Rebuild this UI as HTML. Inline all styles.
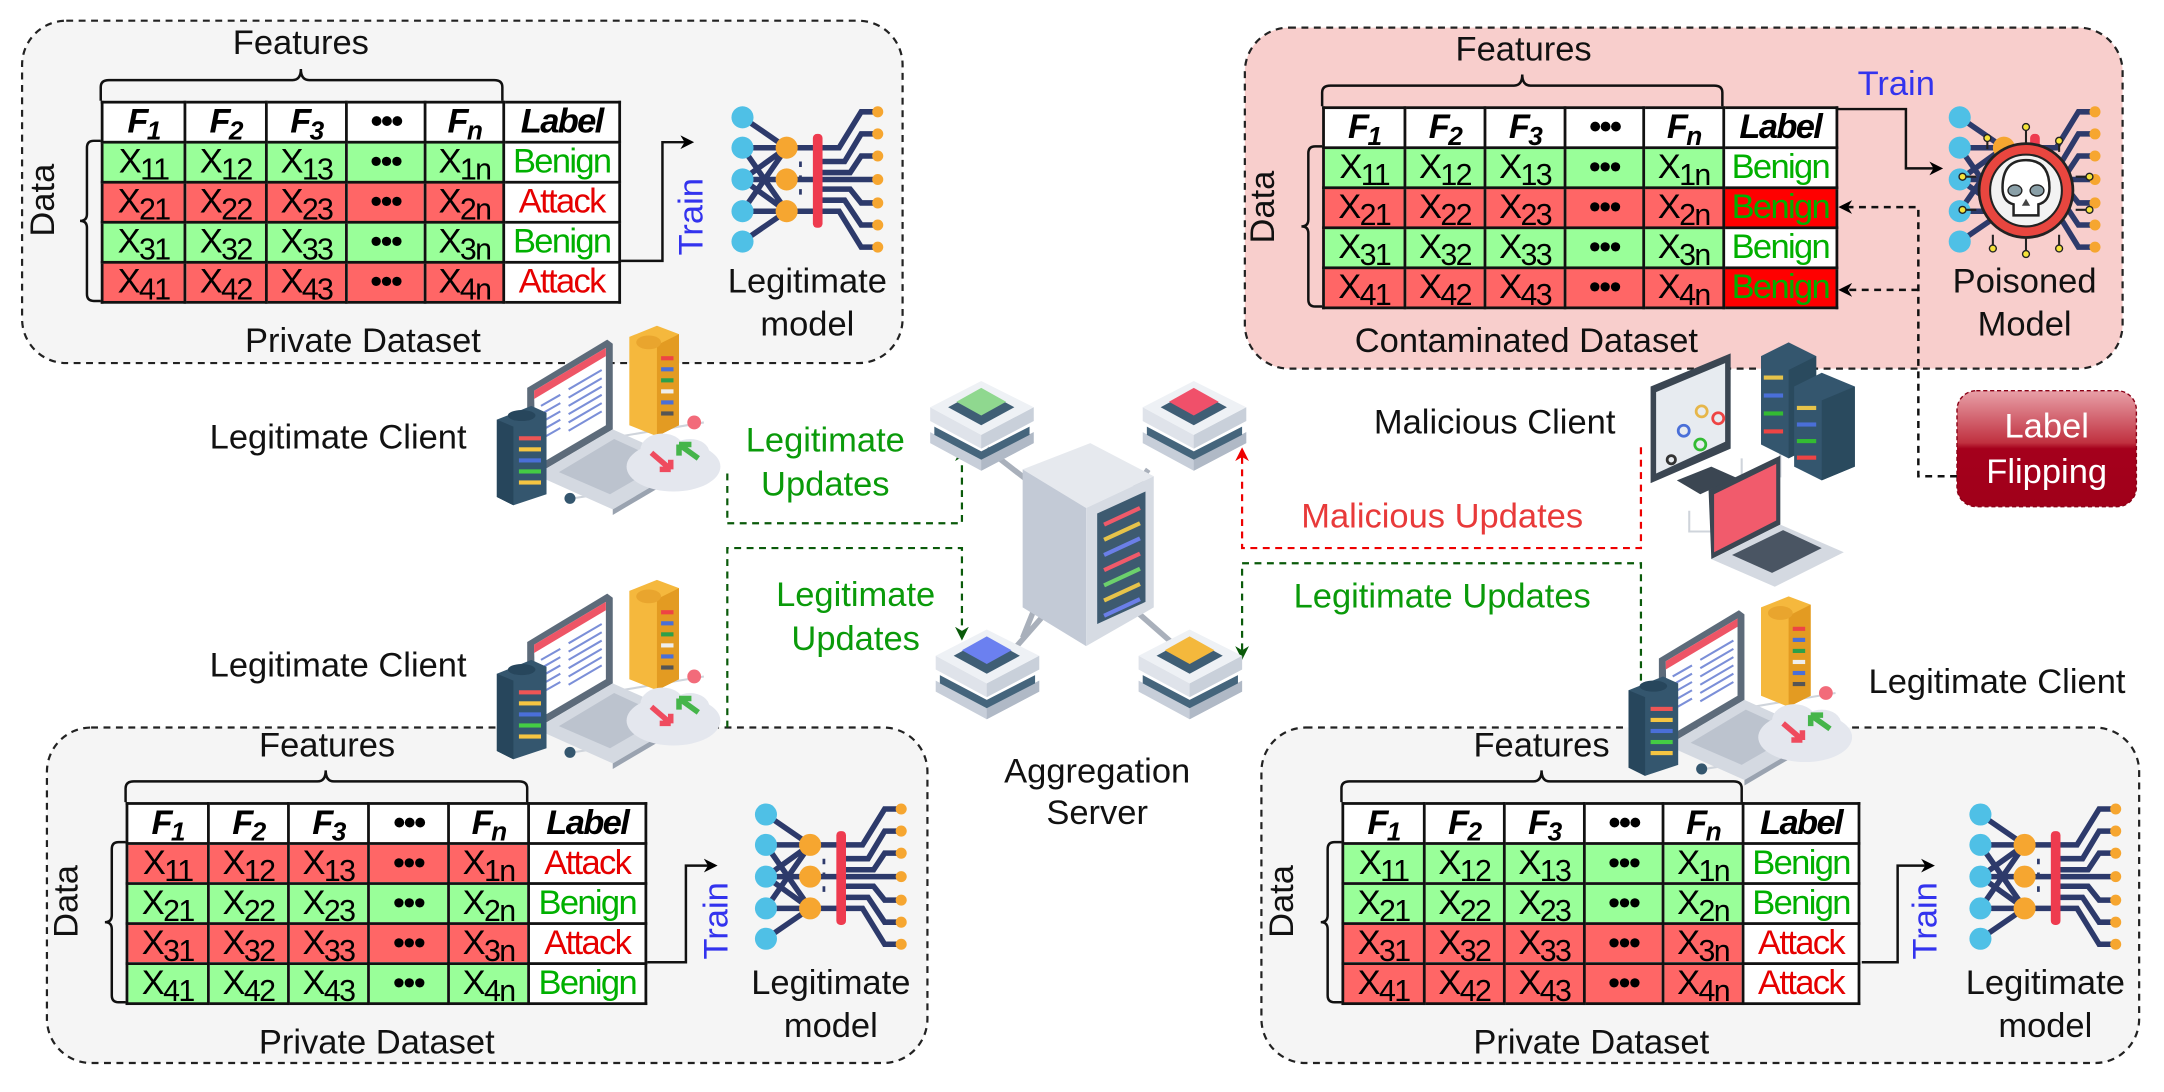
<!DOCTYPE html>
<html><head><meta charset="utf-8">
<style>
html,body{margin:0;padding:0;background:#fff;}
body{width:2164px;height:1092px;overflow:hidden;position:relative;}
#c{position:absolute;left:0;top:0;width:1568px;height:791px;transform-origin:0 0;transform:scale(1.38010,1.38053);font-family:"Liberation Sans",sans-serif;}
svg{position:absolute;left:0;top:0;}
table.t{position:absolute;border-collapse:collapse;table-layout:fixed;font-family:"Liberation Sans",sans-serif;}
table.t td,table.t th{border:2px solid #111;height:27px;padding:0;text-align:center;font-size:25px;line-height:25px;overflow:hidden;white-space:nowrap;letter-spacing:-1.2px;}
table.t th{background:#fff;font-weight:bold;font-style:italic;font-size:25px;}
table.t sub{font-size:22px;vertical-align:-5px;line-height:0;}
table.t th sub{font-size:19px;}
.g{background:#99ff99;}.r{background:#ff6666;}
.lb{background:#fff;color:#00b000;}.la{background:#fff;color:#e60000;}
.lr{background:#ff0000;color:#00b000;}
</style></head><body><div id="c">
<svg width="1568" height="791" viewBox="0 0 1568 791" font-family="Liberation Sans, sans-serif">
<defs>
<marker id="ab" markerWidth="10" markerHeight="10" refX="8" refY="5" orient="auto" markerUnits="userSpaceOnUse"><path d="M0,0 L10,5 L0,10 L3,5z" fill="#000"/></marker>
<marker id="ag" markerWidth="10" markerHeight="10" refX="8" refY="5" orient="auto" markerUnits="userSpaceOnUse"><path d="M0,0 L10,5 L0,10 L3,5z" fill="#0a5a0a"/></marker>
<marker id="ar" markerWidth="10" markerHeight="10" refX="8" refY="5" orient="auto" markerUnits="userSpaceOnUse"><path d="M0,0 L10,5 L0,10 L3,5z" fill="#e00"/></marker>
<linearGradient id="lf" x1="0" y1="0" x2="0" y2="1"><stop offset="0" stop-color="#e8a0a8"/><stop offset="0.45" stop-color="#c0303f"/><stop offset="0.5" stop-color="#a5001c"/><stop offset="1" stop-color="#a0001a"/></linearGradient>
<g id="nn">
<g stroke="#2d3a6b" stroke-width="4" fill="none">
<path d="M10,10 L42,32 M10,32 H66 M10,32 L42,78 M10,55 H66 M10,78 L42,32 M10,78 H66 M10,100 L42,78 M10,55 L42,32 M10,55 L42,78"/>
<path d="M66,32 H80 L96,6 H108 M66,42 H84 L96,22 H108 M66,50 H88 L96,38 H108 M66,55 H108 M66,62 H88 L96,72 H108 M66,70 H84 L96,88 H108 M66,78 H80 L96,104 H108"/>
</g>
<g fill="#4fc0e6"><circle cx="10" cy="10" r="8"/><circle cx="10" cy="32" r="8"/><circle cx="10" cy="55" r="8"/><circle cx="10" cy="78" r="8"/><circle cx="10" cy="100" r="8"/></g>
<g fill="#f6a630"><circle cx="42" cy="32" r="8"/><circle cx="42" cy="55" r="8"/><circle cx="42" cy="78" r="8"/>
<circle cx="108" cy="6" r="4"/><circle cx="108" cy="22" r="4"/><circle cx="108" cy="38" r="4"/><circle cx="108" cy="55" r="4"/><circle cx="108" cy="72" r="4"/><circle cx="108" cy="88" r="4"/><circle cx="108" cy="104" r="4"/></g>
<rect x="61" y="22" width="7" height="68" rx="3" fill="#ee3b4f"/>
<path d="M52,42 v4 M52,52 v4 M52,62 v4" stroke="#2d3a6b" stroke-width="2"/>
</g>
<g id="client">
<path d="M78,82 L150,70 M55,125 L100,118" stroke="#cfd4db" stroke-width="1.5" fill="none"/>
<path d="M96,8 L116,0 L132,6 V72 L116,80 L96,72z" fill="#f5b83d"/><path d="M116,80 L132,72 V6 L116,14z" fill="#e39b22"/>
<ellipse cx="110" cy="12" rx="9" ry="5" fill="#e9a52e"/>
<g><rect x="119" y="22" width="9" height="3" fill="#e44"/><rect x="119" y="30" width="9" height="3" fill="#4a6fd8"/><rect x="119" y="38" width="9" height="3" fill="#2ca04a"/><rect x="119" y="46" width="9" height="3" fill="#eee"/><rect x="119" y="54" width="9" height="3" fill="#4a6fd8"/><rect x="119" y="62" width="9" height="3" fill="#555"/></g>
<path d="M22,45 L80,10 L84,13 L84,75 L28,108 L22,104z" fill="#5d6b7a"/>
<path d="M27,47 L79,16 L79,72 L28,102z" fill="#fff"/>
<path d="M27,47 L79,16 L79,22 L27,53z" fill="#ee5566"/>
<g stroke="#7b8fd8" stroke-width="1.5"><path d="M32,58 L46,50 M32,64 L46,56 M32,70 L46,62 M32,76 L46,68 M32,82 L46,74 M52,46 L76,32 M52,52 L76,38 M52,58 L76,44 M52,64 L76,50 M52,70 L76,56 M52,76 L76,62"/></g>
<path d="M28,108 L84,75 L140,100 L84,133z" fill="#d4d9e1"/>
<path d="M84,133 L140,100 L140,104 L84,137z" fill="#9aa3b0"/>
<path d="M45,106 L85,82 L122,99 L82,122z" fill="#bcc3ce"/>
<path d="M0,68 L25,58 L36,63 L36,122 L12,130 L0,124z" fill="#34566e"/>
<path d="M0,68 L12,73 L12,130 L0,124z" fill="#27465c"/>
<ellipse cx="18" cy="65" rx="10" ry="4" fill="#27465c"/>
<g><rect x="16" y="80" width="16" height="3" fill="#e55"/><rect x="16" y="88" width="16" height="3" fill="#f5c542"/><rect x="16" y="96" width="16" height="3" fill="#4a6fd8"/><rect x="16" y="104" width="16" height="3" fill="#4c4"/><rect x="16" y="112" width="16" height="3" fill="#f5c542"/></g>
<circle cx="143" cy="70" r="5" fill="#f26b7a"/><circle cx="53" cy="125" r="4" fill="#34566e"/>
<ellipse cx="128" cy="102" rx="34" ry="18" fill="#e4e7ee"/><ellipse cx="120" cy="90" rx="16" ry="12" fill="#e4e7ee"/><ellipse cx="140" cy="92" rx="14" ry="10" fill="#e4e7ee"/>
<path d="M112,92 L126,104 M126,104 l-8,0 M126,104 l0,-7" stroke="#ef4b5e" stroke-width="4" fill="none"/>
<path d="M146,96 L132,86 M132,86 l9,0 M132,86 l0,8" stroke="#45b54a" stroke-width="4" fill="none"/>
</g>
<g id="node">
<path d="M0,38 L37,58 L75,38 L75,46 L37,66 L0,46z" fill="#c7ced9"/>
<path d="M37,58 L75,38 L75,46 L37,66z" fill="#b0b9c6"/>
<path d="M3,34 L37,52 L72,34 L72,40 L37,58 L3,40z" fill="#45657c"/>
<path d="M0,20 L37,40 L75,20 L75,30 L37,50 L0,30z" fill="#dfe3ea"/>
<path d="M37,40 L75,20 L75,30 L37,50z" fill="#c9d0da"/>
<path d="M0,20 L37,1 L75,20 L37,40z" fill="#eef1f5"/>
<path d="M13,20 L37,7 L61,20 L37,33z" fill="#3f5e75"/>
</g>
</defs>

<rect x="16" y="15" width="638" height="248" rx="32" fill="#f5f5f5" stroke="#222" stroke-width="1.6" stroke-dasharray="5,4"/>
<rect x="902" y="20" width="636" height="247" rx="32" fill="#f8cecc" stroke="#222" stroke-width="1.6" stroke-dasharray="5,4"/>
<rect x="34" y="527" width="638" height="243" rx="32" fill="#f5f5f5" stroke="#222" stroke-width="1.6" stroke-dasharray="5,4"/>
<rect x="914" y="527" width="636" height="243" rx="32" fill="#f5f5f5" stroke="#222" stroke-width="1.6" stroke-dasharray="5,4"/>

<g fill="none" stroke="#111" stroke-width="1.8">
<path d="M73,73 V63 Q73,58 79,58 H212 Q218,58 218,50 Q218,58 224,58 H358 Q364,58 364,63 V73"/>
<path d="M73,102 H68 Q63,102 63,107 V155 Q63,160 58,160 Q63,160 63,165 V213 Q63,218 68,218 H73"/>
<path d="M958,77 V67 Q958,62 964,62 H1097 Q1103,62 1103,54 Q1103,62 1109,62 H1242 Q1248,62 1248,67 V77"/>
<path d="M958,106 H953 Q948,106 948,111 V159 Q948,164 943,164 Q948,164 948,169 V217 Q948,222 953,222 H958"/>
<path d="M91,581 V571 Q91,566 97,566 H230 Q236,566 236,558 Q236,566 242,566 H376 Q382,566 382,571 V581"/>
<path d="M91,610 H86 Q81,610 81,615 V663 Q81,668 76,668 Q81,668 81,673 V721 Q81,726 86,726 H91"/>
<path d="M972,581 V571 Q972,566 978,566 H1111 Q1117,566 1117,558 Q1117,566 1123,566 H1256 Q1262,566 1262,571 V581"/>
<path d="M972,610 H967 Q962,610 962,615 V663 Q962,668 957,668 Q962,668 962,673 V721 Q962,726 967,726 H972"/>
</g>

<g font-size="25" fill="#111" text-anchor="middle">
<text x="218" y="39">Features</text>
<text x="1104" y="44">Features</text>
<text x="237" y="548">Features</text>
<text x="1117" y="548">Features</text>
<text transform="translate(39,145) rotate(-90)">Data</text>
<text transform="translate(923,150) rotate(-90)">Data</text>
<text transform="translate(56,653) rotate(-90)">Data</text>
<text transform="translate(937,653) rotate(-90)">Data</text>
<text x="263" y="255">Private Dataset</text>
<text x="1106" y="255">Contaminated Dataset</text>
<text x="273" y="763">Private Dataset</text>
<text x="1153" y="763">Private Dataset</text>
<text x="585" y="212">Legitimate</text><text x="585" y="243">model</text>
<text x="1467" y="212">Poisoned</text><text x="1467" y="243">Model</text>
<text x="602" y="720">Legitimate</text><text x="602" y="751">model</text>
<text x="1482" y="720">Legitimate</text><text x="1482" y="751">model</text>
<text x="245" y="325">Legitimate Client</text>
<text x="245" y="490">Legitimate Client</text>
<text x="1083" y="314">Malicious Client</text>
<text x="1447" y="502">Legitimate Client</text>
<text x="795" y="567">Aggregation</text><text x="795" y="597">Server</text>
</g>
<g font-size="25" text-anchor="middle">
<text x="598" y="327" fill="#0a9a0a">Legitimate</text><text x="598" y="359" fill="#0a9a0a">Updates</text>
<text x="620" y="439" fill="#0a9a0a">Legitimate</text><text x="620" y="471" fill="#0a9a0a">Updates</text>
<text x="1045" y="382" fill="#e83a3a">Malicious Updates</text>
<text x="1045" y="440" fill="#0a9a0a">Legitimate Updates</text>
<text x="1374" y="69" fill="#3333ee">Train</text>
<text transform="translate(509,157) rotate(-90)" fill="#3333ee">Train</text>
<text transform="translate(527,667) rotate(-90)" fill="#3333ee">Train</text>
<text transform="translate(1403,667) rotate(-90)" fill="#3333ee">Train</text>
</g>

<g fill="none" stroke="#111" stroke-width="1.8">
<path d="M450,189 H480 V103 H501" marker-end="url(#ab)"/>
<path d="M469,697 H497 V627 H518" marker-end="url(#ab)"/>
<path d="M1349,697 H1375 V627 H1400" marker-end="url(#ab)"/>
<path d="M1330,79 H1381 V122 H1406" marker-end="url(#ab)"/>
<path d="M1418,345 H1390 V150 H1334" stroke-dasharray="5,4" marker-end="url(#ab)"/>
<path d="M1390,210 H1334" stroke-dasharray="5,4" marker-end="url(#ab)"/>
</g>

<g fill="none" stroke-width="1.6" stroke-dasharray="5,4">
<path d="M527,343 V379 H697 V326" stroke="#0a5a0a" marker-end="url(#ag)"/>
<path d="M527,527 V397 H697 V462" stroke="#0a5a0a" marker-end="url(#ag)"/>
<path d="M1189,324 V397 H900 V326" stroke="#e00" marker-end="url(#ar)"/>
<path d="M1189,493 V408 H900 V476" stroke="#0a5a0a" marker-end="url(#ag)"/>
</g>

<rect x="1418" y="283" width="130" height="84" rx="14" fill="url(#lf)" stroke="#8a0015" stroke-dasharray="3,2"/>
<text x="1483" y="317" font-size="25" fill="#fff" text-anchor="middle">Label</text>
<text x="1483" y="350" font-size="25" fill="#fff" text-anchor="middle">Flipping</text>

<use href="#nn" x="528" y="75"/>
<use href="#nn" x="545" y="580"/>
<use href="#nn" x="1425" y="580"/>
<use href="#nn" x="1410" y="75"/>
<g transform="translate(1468,138)">
<g stroke="#222" stroke-width="1.5" fill="none"><path d="M-28,-30 V-36 M0,-34 V-44 M24,-28 V-34 M-36,-10 H-44 M36,-10 H44 M-36,14 H-44 M36,14 H44 M-24,32 V40 M0,34 V44 M24,32 V40"/></g>
<g fill="#f5e33a" stroke="#222" stroke-width="1"><circle cx="-28" cy="-38" r="2.5"/><circle cx="0" cy="-46" r="2.5"/><circle cx="24" cy="-36" r="2.5"/><circle cx="-46" cy="-10" r="2.5"/><circle cx="46" cy="-10" r="2.5"/><circle cx="-46" cy="14" r="2.5"/><circle cx="46" cy="14" r="2.5"/><circle cx="-24" cy="42" r="2.5"/><circle cx="0" cy="46" r="2.5"/><circle cx="24" cy="42" r="2.5"/></g>
<circle r="34" fill="#e8463f" stroke="#222" stroke-width="2"/>
<circle r="26" fill="#f3f3f3" stroke="#222" stroke-width="1.5"/>
<path d="M-17,-2 Q-17,-22 0,-22 Q17,-22 17,-2 Q17,8 9,10 V18 H-9 V10 Q-17,8 -17,-2z" fill="#fff" stroke="#222" stroke-width="1.8"/>
<ellipse cx="-8" cy="0" rx="5" ry="4" fill="#8aa0a8" stroke="#222"/><ellipse cx="8" cy="0" rx="5" ry="4" fill="#8aa0a8" stroke="#222"/>
<path d="M0,6 l-3,5 h6z" fill="#444"/>
</g>

<use href="#client" x="360" y="236"/>
<use href="#client" x="360" y="420"/>
<use href="#client" x="1180" y="432"/>

<g>
<path d="M1224,370 V385 H1268 M1262,332 V345 H1290 V300 M1248,400 L1270,410 M1300,312 L1330,300" stroke="#cfd4db" stroke-width="1.5" fill="none"/>
<path d="M1196,280 L1254,256 V325 L1196,350z" fill="#3b4652"/>
<path d="M1200,284 L1250,263 V320 L1200,343z" fill="#e7ebf0"/>
<circle cx="1220" cy="312" r="4" fill="none" stroke="#4a6fd8" stroke-width="2"/><circle cx="1233" cy="298" r="4" fill="none" stroke="#e6b64a" stroke-width="2"/><circle cx="1245" cy="303" r="4" fill="none" stroke="#e44" stroke-width="2"/><circle cx="1232" cy="322" r="4" fill="none" stroke="#3b3" stroke-width="2"/><circle cx="1211" cy="333" r="3" fill="none" stroke="#333" stroke-width="2"/>
<path d="M1215,348 L1240,338 L1258,346 L1232,358z" fill="#3b4652"/>
<path d="M1276,258 L1296,248 L1316,258 V322 L1296,332 L1276,322z" fill="#34566e"/>
<path d="M1296,268 L1316,258 V322 L1296,332z" fill="#2a4a5e"/>
<g><rect x="1278" y="272" width="14" height="3" fill="#e6c34a"/><rect x="1278" y="285" width="14" height="3" fill="#4a6fd8"/><rect x="1278" y="298" width="14" height="3" fill="#3b3"/><rect x="1278" y="311" width="14" height="3" fill="#e44"/></g>
<path d="M1300,280 L1320,270 L1344,280 V338 L1320,348 L1300,338z" fill="#34566e"/>
<path d="M1320,290 L1344,280 V338 L1320,348z" fill="#2a4a5e"/>
<g><rect x="1302" y="294" width="14" height="3" fill="#e6c34a"/><rect x="1302" y="306" width="14" height="3" fill="#4a6fd8"/><rect x="1302" y="318" width="14" height="3" fill="#3b3"/><rect x="1302" y="330" width="14" height="3" fill="#e44"/></g>
<path d="M1238,355 L1290,330 V380 L1240,405z" fill="#3b4652"/>
<path d="M1242,358 L1287,336 V377 L1242,400z" fill="#f15b6c"/>
<path d="M1240,405 L1290,380 L1336,400 L1286,425z" fill="#d4d9e1"/>
<path d="M1255,402 L1292,384 L1320,397 L1284,415z" fill="#4a5563"/>
</g>

<g>
<path d="M775,378 L741,462 M805,378 L832,340 M770,430 L735,470 M820,440 L852,468 M760,360 L715,325" stroke="#a9b0bb" stroke-width="4"/>
<path d="M741,340 L790,321 L836,345 L787,368z" fill="#e6e9ee"/>
<path d="M741,340 L787,368 V468 L741,440z" fill="#c3cad6"/>
<path d="M787,368 L836,345 V440 L787,468z" fill="#d6dbe3"/>
<path d="M795,372 L830,356 V436 L795,452z" fill="#3d5a70"/>
<g stroke-width="3"><path d="M800,380 L826,368" stroke="#f05a6a"/><path d="M800,391 L826,379" stroke="#e6c34a"/><path d="M800,402 L826,390" stroke="#6b7fe8"/><path d="M800,413 L826,401" stroke="#f05a6a"/><path d="M800,424 L826,412" stroke="#6cd06c"/><path d="M800,435 L826,423" stroke="#e6c34a"/><path d="M800,446 L826,434" stroke="#6b7fe8"/></g>
</g>
<use href="#node" x="674" y="275"/>
<path d="M693,291 L711,281 L729,291 L711,301z" fill="#8fd88f"/>
<use href="#node" x="828" y="275"/>
<path d="M847,291 L865,281 L883,291 L865,301z" fill="#f0506a"/>
<use href="#node" x="678" y="455"/>
<path d="M697,471 L715,461 L733,471 L715,481z" fill="#6b80f0"/>
<use href="#node" x="825" y="455"/>
<path d="M844,471 L862,461 L880,471 L862,481z" fill="#f4b83c"/>
</svg>

<table class="t" style="left:73px;top:73px;width:375px">
<colgroup><col style="width:60px"><col style="width:59px"><col style="width:58px"><col style="width:57px"><col style="width:57px"><col style="width:84px"></colgroup>
<tr><th>F<sub>1</sub></th><th>F<sub>2</sub></th><th>F<sub>3</sub></th><th>•••</th><th>F<sub>n</sub></th><th>Label</th></tr>
<tr><td class="g">X<sub>11</sub></td><td class="g">X<sub>12</sub></td><td class="g">X<sub>13</sub></td><td class="g">•••</td><td class="g">X<sub>1n</sub></td><td class="lb">Benign</td></tr>
<tr><td class="r">X<sub>21</sub></td><td class="r">X<sub>22</sub></td><td class="r">X<sub>23</sub></td><td class="r">•••</td><td class="r">X<sub>2n</sub></td><td class="la">Attack</td></tr>
<tr><td class="g">X<sub>31</sub></td><td class="g">X<sub>32</sub></td><td class="g">X<sub>33</sub></td><td class="g">•••</td><td class="g">X<sub>3n</sub></td><td class="lb">Benign</td></tr>
<tr><td class="r">X<sub>41</sub></td><td class="r">X<sub>42</sub></td><td class="r">X<sub>43</sub></td><td class="r">•••</td><td class="r">X<sub>4n</sub></td><td class="la">Attack</td></tr>
</table>

<table class="t" style="left:958px;top:77px;width:372px">
<colgroup><col style="width:59px"><col style="width:58px"><col style="width:58px"><col style="width:57px"><col style="width:58px"><col style="width:82px"></colgroup>
<tr><th>F<sub>1</sub></th><th>F<sub>2</sub></th><th>F<sub>3</sub></th><th>•••</th><th>F<sub>n</sub></th><th>Label</th></tr>
<tr><td class="g">X<sub>11</sub></td><td class="g">X<sub>12</sub></td><td class="g">X<sub>13</sub></td><td class="g">•••</td><td class="g">X<sub>1n</sub></td><td class="lb">Benign</td></tr>
<tr><td class="r">X<sub>21</sub></td><td class="r">X<sub>22</sub></td><td class="r">X<sub>23</sub></td><td class="r">•••</td><td class="r">X<sub>2n</sub></td><td class="lr">Benign</td></tr>
<tr><td class="g">X<sub>31</sub></td><td class="g">X<sub>32</sub></td><td class="g">X<sub>33</sub></td><td class="g">•••</td><td class="g">X<sub>3n</sub></td><td class="lb">Benign</td></tr>
<tr><td class="r">X<sub>41</sub></td><td class="r">X<sub>42</sub></td><td class="r">X<sub>43</sub></td><td class="r">•••</td><td class="r">X<sub>4n</sub></td><td class="lr">Benign</td></tr>
</table>

<table class="t" style="left:91px;top:581px;width:376px">
<colgroup><col style="width:59px"><col style="width:58px"><col style="width:58px"><col style="width:58px"><col style="width:58px"><col style="width:85px"></colgroup>
<tr><th>F<sub>1</sub></th><th>F<sub>2</sub></th><th>F<sub>3</sub></th><th>•••</th><th>F<sub>n</sub></th><th>Label</th></tr>
<tr><td class="r">X<sub>11</sub></td><td class="r">X<sub>12</sub></td><td class="r">X<sub>13</sub></td><td class="r">•••</td><td class="r">X<sub>1n</sub></td><td class="la">Attack</td></tr>
<tr><td class="g">X<sub>21</sub></td><td class="g">X<sub>22</sub></td><td class="g">X<sub>23</sub></td><td class="g">•••</td><td class="g">X<sub>2n</sub></td><td class="lb">Benign</td></tr>
<tr><td class="r">X<sub>31</sub></td><td class="r">X<sub>32</sub></td><td class="r">X<sub>33</sub></td><td class="r">•••</td><td class="r">X<sub>3n</sub></td><td class="la">Attack</td></tr>
<tr><td class="g">X<sub>41</sub></td><td class="g">X<sub>42</sub></td><td class="g">X<sub>43</sub></td><td class="g">•••</td><td class="g">X<sub>4n</sub></td><td class="lb">Benign</td></tr>
</table>

<table class="t" style="left:972px;top:581px;width:374px">
<colgroup><col style="width:59px"><col style="width:58px"><col style="width:58px"><col style="width:57px"><col style="width:58px"><col style="width:84px"></colgroup>
<tr><th>F<sub>1</sub></th><th>F<sub>2</sub></th><th>F<sub>3</sub></th><th>•••</th><th>F<sub>n</sub></th><th>Label</th></tr>
<tr><td class="g">X<sub>11</sub></td><td class="g">X<sub>12</sub></td><td class="g">X<sub>13</sub></td><td class="g">•••</td><td class="g">X<sub>1n</sub></td><td class="lb">Benign</td></tr>
<tr><td class="g">X<sub>21</sub></td><td class="g">X<sub>22</sub></td><td class="g">X<sub>23</sub></td><td class="g">•••</td><td class="g">X<sub>2n</sub></td><td class="lb">Benign</td></tr>
<tr><td class="r">X<sub>31</sub></td><td class="r">X<sub>32</sub></td><td class="r">X<sub>33</sub></td><td class="r">•••</td><td class="r">X<sub>3n</sub></td><td class="la">Attack</td></tr>
<tr><td class="r">X<sub>41</sub></td><td class="r">X<sub>42</sub></td><td class="r">X<sub>43</sub></td><td class="r">•••</td><td class="r">X<sub>4n</sub></td><td class="la">Attack</td></tr>
</table>
</div></body></html>
